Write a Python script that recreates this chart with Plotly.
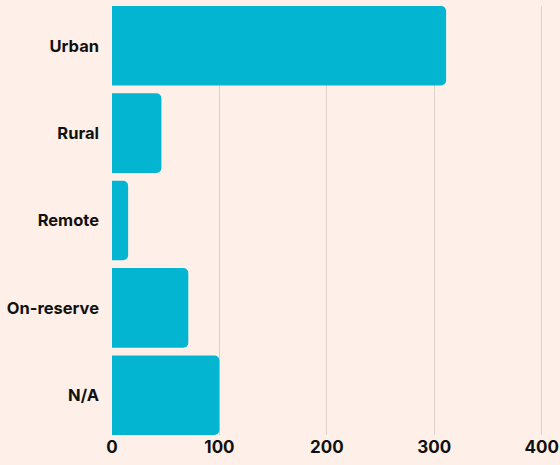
import plotly.graph_objects as go

categories = ["Urban", "Rural", "Remote", "On-reserve", "N/A"]
values = [311, 46, 15, 71, 100]
tick_vals = [0, 100, 200, 300, 400]

fig = go.Figure(go.Bar(
    y=categories,
    x=values,
    orientation="h",
    marker=dict(color="#03b5d1", line=dict(width=0)),
    hoverinfo="skip",
))

fig.update_layout(
    width=560, height=465,
    margin=dict(l=112, r=0, t=6, b=30),
    paper_bgcolor="#fef0e8",
    plot_bgcolor="#fef0e8",
    bargap=0.09,
    barcornerradius=5,
    showlegend=False,
    font=dict(family="Inter, Lato, sans-serif", size=17, color="#111111"),
)
fig.update_xaxes(
    range=[0, 417],
    tickvals=tick_vals,
    showgrid=True, gridcolor="#dcd2cb", gridwidth=1,
    zeroline=False,
    automargin=False,
    tickfont=dict(size=17, family="Inter, sans-serif", weight="bold", color="#111111"),
    ticks="", showline=False,
)
fig.update_yaxes(
    categoryorder="array",
    categoryarray=categories,
    autorange=False,
    range=[4.455, -0.455],
    automargin=False,
    ticks="", showgrid=False, showline=False,
    tickfont=dict(size=16.5, family="Inter, sans-serif", weight="bold", color="#111111"),
    ticklabelstandoff=12,
)

fig.write_html(
    "out.html",
    config={"displayModeBar": False, "staticPlot": True},
    post_script="document.body.style.margin='0';document.body.style.background='#fef0e8';",
)
